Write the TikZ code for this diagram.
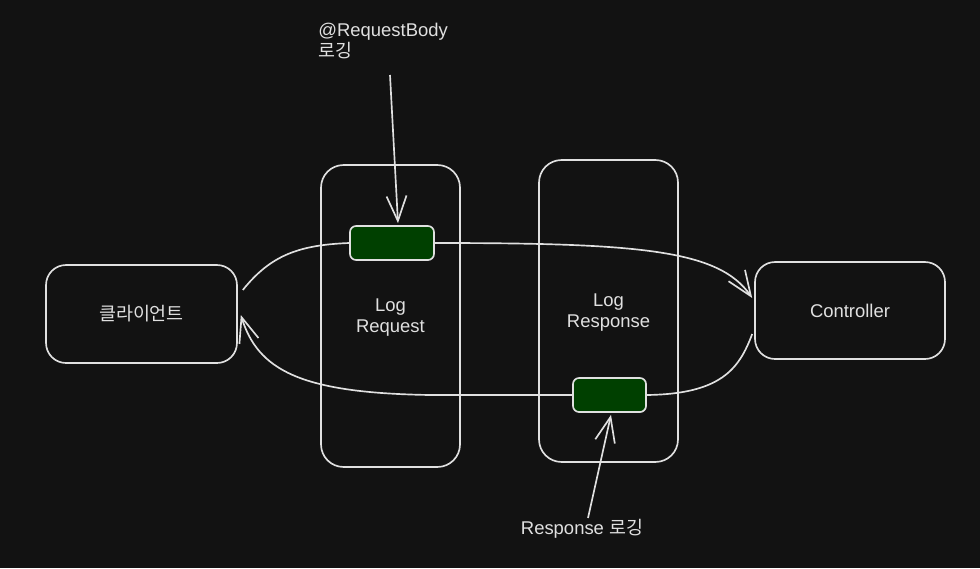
\documentclass[tikz,border=0pt]{standalone}
\usepackage{fontspec}
\setmainfont{Liberation Sans}
\newfontfamily\kr{Noto Sans CJK KR}
\usetikzlibrary{arrows.meta}
\definecolor{bgdark}{RGB}{18,18,18}
\definecolor{linegray}{RGB}{224,224,224}
\definecolor{boxgreen}{RGB}{0,64,0}

\tikzset{
  outline/.style={draw=linegray, line width=0.95pt},
  stagebox/.style={outline, rounded corners=0.45cm, minimum width=2.78cm, minimum height=6.04cm,
    align=center, text=linegray, font=\fontsize{10.5}{12}\selectfont},
  endbox/.style={outline, rounded corners=0.4cm, minimum width=3.82cm, minimum height=1.96cm,
    text=linegray, font=\fontsize{10.5}{12}\selectfont},
  greenbox/.style={outline, fill=boxgreen, rounded corners=0.12cm, minimum height=0.68cm},
  flow/.style={outline},
  note/.style={text=linegray, font=\fontsize{10.5}{12}\selectfont},
  tip/.style={-{Straight Barb[length=5mm,width=4mm]}}
}

\begin{document}
\begin{tikzpicture}[x=0.02cm, y=-0.02cm]
    \fill[bgdark] (0,0) rectangle (980,568);
    \useasboundingbox (0,0) rectangle (980,568);

    % boxes
    \node[endbox] (client) at (141.5,314) {\kr 클라이언트};
    \node[stagebox] (logreq) at (390.5,316) {\\[-0.5ex]Log\\Request};
    \node[stagebox] (logres) at (608.5,311) {\\[-0.5ex]Log\\Response};
    \node[endbox, minimum width=3.8cm, minimum height=1.94cm] (ctrl) at (850,310.5) {Controller};
    \node[greenbox, minimum width=1.68cm] (reqbox) at (392,243) {};
    \node[greenbox, minimum width=1.46cm] (resbox) at (609.5,395) {};

    % notes
    \node[note, anchor=north west, align=left, inner sep=0pt] (reqnote) at (318,23)
      {@RequestBody\\{\kr 로깅}};
    \node[note] (resnote) at (582,529) {Response {\kr 로깅}};
    \coordinate (reqstart) at (390,75);
    \coordinate (resstart) at (588,518);

    % request flow
    \draw[flow] ([xshift=0.1cm,yshift=0.48cm]client.east)
      .. controls +(28,-35) and +(-50,2) .. (reqbox.west);
    \draw[flow, tip] (reqbox.east)
      .. controls +(206,0) and +(-33,-48) .. ([xshift=-0.04cm,yshift=0.25cm]ctrl.west);

    % response flow
    \draw[flow] ([xshift=-0.04cm,yshift=-0.47cm]ctrl.west)
      .. controls +(-13,35) and +(74,-1) .. (resbox.east);
    \draw[flow, tip] (resbox.west) -- (430,395)
      .. controls (300,393) and (258,370) .. ([xshift=0.06cm,yshift=-0.02cm]client.east);

    % notes arrows
    \draw[flow, tip] (reqstart) -- ([xshift=0.12cm,yshift=0.04cm]reqbox.north);
    \draw[flow, tip] (resstart) -- ([xshift=0.03cm,yshift=-0.04cm]resbox.south);
\end{tikzpicture}
\end{document}
